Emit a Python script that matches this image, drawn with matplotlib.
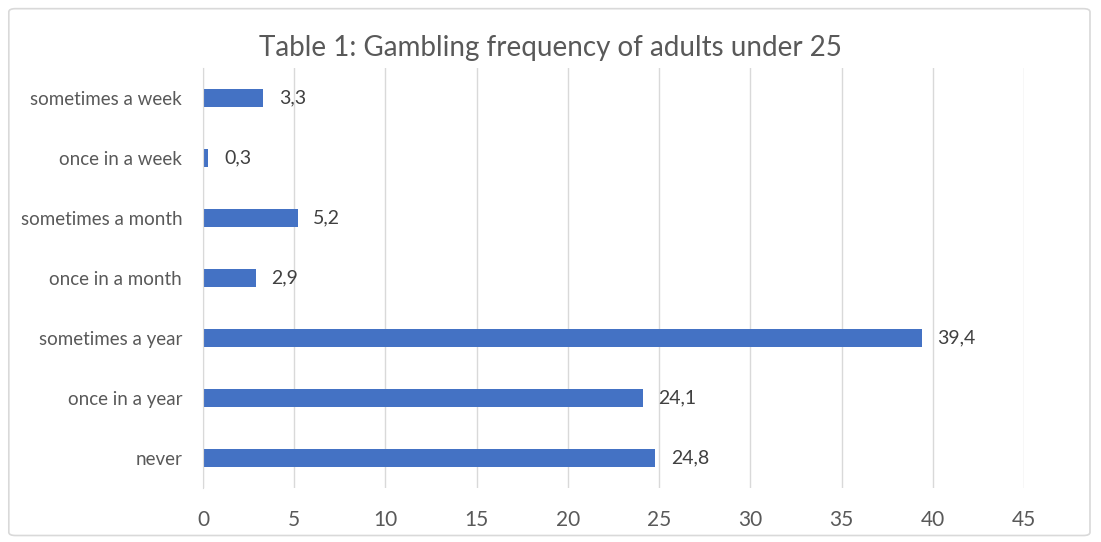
import matplotlib.pyplot as plt
from matplotlib.patches import FancyBboxPatch

categories = ["never", "once in a year", "sometimes a year", "once in a month",
              "sometimes a month", "once in a week", "sometimes a week"]
values = [24.8, 24.1, 39.4, 2.9, 5.2, 0.3, 3.3]
xticks = [0, 5, 10, 15, 20, 25, 30, 35, 40, 45]

plt.rcParams['font.family'] = ['Lato', 'DejaVu Sans']

fig = plt.figure(figsize=(11.01, 5.42), dpi=100)
ax = fig.add_axes([0.1844, 0.0996, 0.7456, 0.7749])

# outer chart border
border = FancyBboxPatch((0.008, 0.012), 0.982, 0.972,
                        boxstyle="round,pad=0,rounding_size=0.006",
                        transform=fig.transFigure, fill=False,
                        edgecolor="#d9d9d9", linewidth=1.2)
fig.patches.append(border)

bars = ax.barh(range(len(categories)), values, height=0.3, color="#4472C4")

for bar, v in zip(bars, values):
    ax.text(bar.get_width() + 0.85, bar.get_y() + bar.get_height() / 2,
            f"{v:.1f}".replace(".", ","), va="center", ha="left",
            fontsize=14, color="#404040")

ax.set_yticks(range(len(categories)))
ax.set_yticklabels(categories, fontsize=13.5, color="#595959")
ax.set_xticks(xticks)
ax.set_xticklabels([str(t) for t in xticks], fontsize=15, color="#595959")
ax.set_xlim(0, 45)
ax.set_ylim(-0.5, len(categories) - 0.5)

ax.grid(axis="x", color="#d9d9d9", linewidth=1)
ax.set_axisbelow(True)
for s in ["top", "right", "bottom"]:
    ax.spines[s].set_visible(False)
ax.spines["left"].set_color("#d9d9d9")
ax.tick_params(axis="x", length=0, pad=16)
ax.tick_params(axis="y", length=0, pad=15)

fig.text(0.5, 0.911, "Table 1: Gambling frequency of adults under 25",
         ha="center", va="center", fontsize=20, color="#595959")

fig.savefig("out.png", dpi=100)
